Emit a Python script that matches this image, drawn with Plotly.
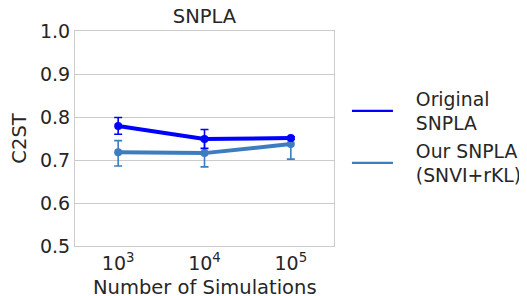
import plotly.graph_objects as go

categories = ["10<sup>3</sup>", "10<sup>4</sup>", "10<sup>5</sup>"]
orig_vals = [0.779, 0.749, 0.751]
orig_err_plus = [0.020, 0.022, 0.003]
orig_err_minus = [0.019, 0.022, 0.003]
our_vals = [0.718, 0.716, 0.737]
our_err_plus = [0.027, 0.030, 0.014]
our_err_minus = [0.032, 0.032, 0.035]
y_ticks = [0.5, 0.6, 0.7, 0.8, 0.9, 1.0]
legend_names = ["Original<br>SNPLA", "Our SNPLA<br>(SNVI+rKL)"]
x_title = "Number of Simulations"

ORIG = "#0000ff"
OUR = "#3b7dbf"
xs = [0, 1, 2]
PAD = "\u00a0\u00a0\u00a0"

fig = go.Figure()
fig.add_trace(go.Scatter(
    x=xs, y=our_vals, mode="lines+markers", showlegend=False,
    line=dict(color=OUR, width=4), marker=dict(size=8, color=OUR),
    error_y=dict(type="data", symmetric=False, array=our_err_plus,
                 arrayminus=our_err_minus, color=OUR, thickness=1.6, width=4)))
fig.add_trace(go.Scatter(
    x=xs, y=orig_vals, mode="lines+markers", showlegend=False,
    line=dict(color=ORIG, width=4), marker=dict(size=8, color=ORIG),
    error_y=dict(type="data", symmetric=False, array=orig_err_plus,
                 arrayminus=orig_err_minus, color=ORIG, thickness=1.6, width=4)))
for name, col in zip(legend_names, [ORIG, OUR]):
    padded = "<br>".join(PAD + part for part in name.split("<br>"))
    fig.add_trace(go.Scatter(x=[None], y=[None], mode="lines", name=padded,
                             line=dict(color=col, width=2.2)))

# page body adds an 8px margin, so the figure is 8px smaller and margins shifted
fig.update_layout(
    width=519, height=288,
    margin=dict(l=67, r=193, t=23, b=50, autoexpand=False),
    paper_bgcolor="white", plot_bgcolor="white",
    font=dict(family="DejaVu Sans", size=19.5, color="#262626"),
    title=dict(text="SNPLA", x=0.5, xanchor="center", xref="paper",
               y=1, yref="paper", yanchor="bottom", pad=dict(b=8),
               font=dict(size=19.5, color="#262626")),
    xaxis=dict(range=[-0.5, 2.5], tickvals=xs, ticktext=categories,
               showgrid=False, zeroline=False, showline=True, linecolor="#cccccc",
               mirror=True, ticks="", automargin=False, tickfont=dict(size=19)),
    yaxis=dict(range=[0.5, 1.0], tickvals=y_ticks, tickformat=".1f",
               showgrid=True, gridcolor="#cccccc", zeroline=False, showline=True,
               linecolor="#cccccc", mirror=True, ticks="", automargin=False,
               tickfont=dict(size=19),
               title=dict(text="C2ST", standoff=10, font=dict(size=19.5))),
    legend=dict(x=1.050, y=0.507, xanchor="left", yanchor="middle", itemwidth=41,
                font=dict(size=18.8), tracegroupgap=6, bgcolor="rgba(0,0,0,0)"),
    annotations=[dict(text=x_title, xref="paper", yref="paper", x=0.5, y=0,
                      xanchor="center", yanchor="middle", yshift=-41,
                      showarrow=False, font=dict(size=19.5, color="#262626"))],
)

fig.write_html("out.html")
